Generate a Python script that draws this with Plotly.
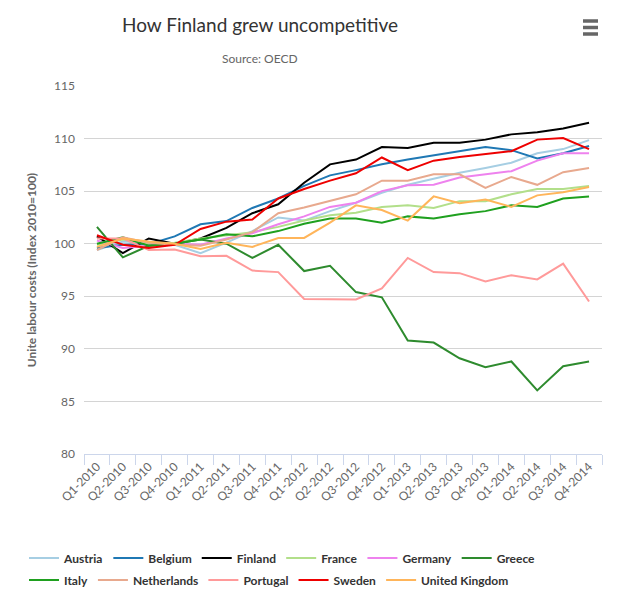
import plotly.graph_objects as go

quarters = ["Q1-2010", "Q2-2010", "Q3-2010", "Q4-2010",
            "Q1-2011", "Q2-2011", "Q3-2011", "Q4-2011",
            "Q1-2012", "Q2-2012", "Q3-2012", "Q4-2012",
            "Q1-2013", "Q2-2013", "Q3-2013", "Q4-2013",
            "Q1-2014", "Q2-2014", "Q3-2014", "Q4-2014"]

austria = [99.4, 100.2, 100.1, 99.9, 99.1, 100.1, 101.2, 102.5, 102.2, 103.1,
           103.9, 104.85, 105.6, 106.2, 106.75, 107.2, 107.7, 108.6, 109.0, 109.85]
belgium = [99.6, 99.9, 99.95, 100.7, 101.85, 102.15, 103.4, 104.3, 105.5, 106.5,
           107.0, 107.55, 108.0, 108.4, 108.8, 109.2, 108.9, 108.1, 108.6, 109.3]
finland = [100.7, 99.1, 100.5, 100.0, 100.5, 101.5, 102.9, 103.75, 105.8, 107.55,
           108.0, 109.2, 109.1, 109.6, 109.6, 109.9, 110.4, 110.6, 110.95, 111.5]
france = [99.9, 100.4, 100.0, 100.1, 100.5, 100.8, 101.1, 101.6, 102.2, 102.7,
          102.95, 103.5, 103.65, 103.4, 104.05, 104.05, 104.7, 105.2, 105.2, 105.5]
germany = [100.3, 99.6, 99.8, 100.0, 99.9, 100.5, 101.0, 101.85, 102.6, 103.5,
           103.9, 105.0, 105.55, 105.6, 106.3, 106.6, 106.9, 107.9, 108.6, 108.6]
greece = [101.6, 98.7, 99.8, 100.0, 100.4, 100.0, 98.65, 99.9, 97.4, 97.9,
          95.4, 94.9, 90.8, 90.6, 89.1, 88.25, 88.8, 86.05, 88.35, 88.8]
italy = [100.0, 100.6, 99.8, 100.0, 100.4, 100.9, 100.7, 101.2, 101.9, 102.4,
         102.4, 102.0, 102.6, 102.4, 102.8, 103.1, 103.65, 103.5, 104.3, 104.5]
netherlands = [99.4, 100.6, 100.1, 99.9, 99.8, 100.4, 101.1, 102.9, 103.45, 104.05,
               104.7, 106.0, 106.0, 106.6, 106.6, 105.3, 106.35, 105.6, 106.8, 107.2]
portugal = [100.5, 100.5, 99.4, 99.45, 98.8, 98.85, 97.45, 97.3, 94.75, 94.7,
            94.7, 95.75, 98.65, 97.3, 97.2, 96.4, 97.0, 96.6, 98.1, 94.5]
sweden = [100.8, 99.9, 99.6, 99.9, 101.4, 102.1, 102.3, 104.3, 105.2, 106.0,
          106.7, 108.2, 107.0, 107.9, 108.25, 108.55, 108.8, 109.9, 110.05, 109.0]
uk = [99.7, 100.5, 100.2, 100.0, 99.5, 100.1, 99.7, 100.55, 100.55, 102.0,
      103.65, 103.2, 102.2, 104.5, 103.85, 104.2, 103.5, 104.6, 104.9, 105.4]

series_names = ["Austria", "Belgium", "Finland", "France", "Germany", "Greece",
                "Italy", "Netherlands", "Portugal", "Sweden", "United Kingdom"]
series_values = [austria, belgium, finland, france, germany, greece,
                 italy, netherlands, portugal, sweden, uk]
colors = ["#a6cee3", "#1f78b4", "#000000", "#b2df8a", "#ee82ee", "#2e8b2e",
          "#1fa01f", "#e8a98e", "#ff9a9a", "#ee0000", "#ffb55a"]

y_ticks = [80, 85, 90, 95, 100, 105, 110, 115]

FONT = "Lato, 'DejaVu Sans', sans-serif"

# the page body has an 8px default margin; work in screen pixels and offset
OFF = 8
W, H = 617 - OFF, 611 - 2 * OFF
L, T = 84 - OFF, 86 - OFF
pw, ph = 518, 368
R = W - L - pw
B = H - T - ph


def px(sx):
    return (sx - OFF - L) / pw


def py(sy):
    return (H - B - (sy - OFF)) / ph


def cx(sx):
    return (sx - OFF) / W


def cy(sy):
    return 1 - (sy - OFF) / H


fig = go.Figure()
xs = list(range(len(quarters)))
for i, (name, vals, col) in enumerate(zip(series_names, series_values, colors)):
    fig.add_trace(go.Scatter(
        x=xs, y=vals, name="<b>" + name + "</b>", mode="lines",
        line=dict(color=col, width=2),
        legend="legend" if i < 6 else "legend2",
    ))

# context-menu icon (three bars)
shapes = []
for yy in (21, 27.5, 34):
    shapes.append(dict(type="line", xref="paper", yref="paper",
                       x0=px(583), x1=px(598), y0=py(yy), y1=py(yy),
                       line=dict(color="#666666", width=3.5)))

annotations = [
    dict(text="Source: OECD", xref="paper", yref="paper",
         x=px(260), y=py(59), xanchor="center", yanchor="middle",
         showarrow=False, font=dict(size=12, color="#666666", family=FONT)),
]

fig.update_layout(
    width=W, height=H,
    margin=dict(l=L, r=R, t=T, b=B, pad=0, autoexpand=False),
    paper_bgcolor="white", plot_bgcolor="white",
    font=dict(family=FONT, color="#666666", size=12),
    title=dict(text="How Finland grew uncompetitive", x=cx(260), xanchor="center",
               xref="container", y=cy(25), yref="container", yanchor="middle",
               font=dict(size=19, color="#333333", family=FONT)),
    annotations=annotations,
    xaxis=dict(range=[-0.5, len(quarters) - 0.5], tickmode="array",
               tickvals=xs, ticktext=quarters, tickangle=-45,
               showgrid=False, zeroline=False, ticks="",
               showline=True, linecolor="#ccd6eb", linewidth=1,
               tickfont=dict(size=12, color="#666666", family=FONT),
               minor=dict(tickmode="array",
                          tickvals=[i - 0.5 for i in range(len(quarters) + 1)],
                          ticks="outside", ticklen=10, tickcolor="#ccd6eb",
                          tickwidth=1, showgrid=False),
               automargin=False, fixedrange=True),
    yaxis=dict(range=[80, 115], tickmode="array", tickvals=y_ticks,
               ticktext=[str(v) for v in y_ticks],
               showgrid=True, gridcolor="#d4d4d4", gridwidth=1, zeroline=False,
               ticks="", ticklabelstandoff=8,
               title=dict(text="<b>Unite labour costs (Index 2010=100)</b>",
                          font=dict(size=12, color="#666666", family=FONT),
                          standoff=14),
               tickfont=dict(size=12, color="#666666", family=FONT),
               automargin=False, fixedrange=True),
    legend=dict(orientation="h", x=cx(24), xref="container", xanchor="left",
                y=cy(558), yref="container", yanchor="middle",
                font=dict(size=12, color="#333333", family=FONT),
                itemwidth=30, tracegroupgap=0),
    legend2=dict(orientation="h", x=cx(24), xref="container", xanchor="left",
                 y=cy(580), yref="container", yanchor="middle",
                 font=dict(size=12, color="#333333", family=FONT),
                 itemwidth=30, tracegroupgap=0),
    shapes=shapes,
    showlegend=True,
)

fig.write_html("out.html")
